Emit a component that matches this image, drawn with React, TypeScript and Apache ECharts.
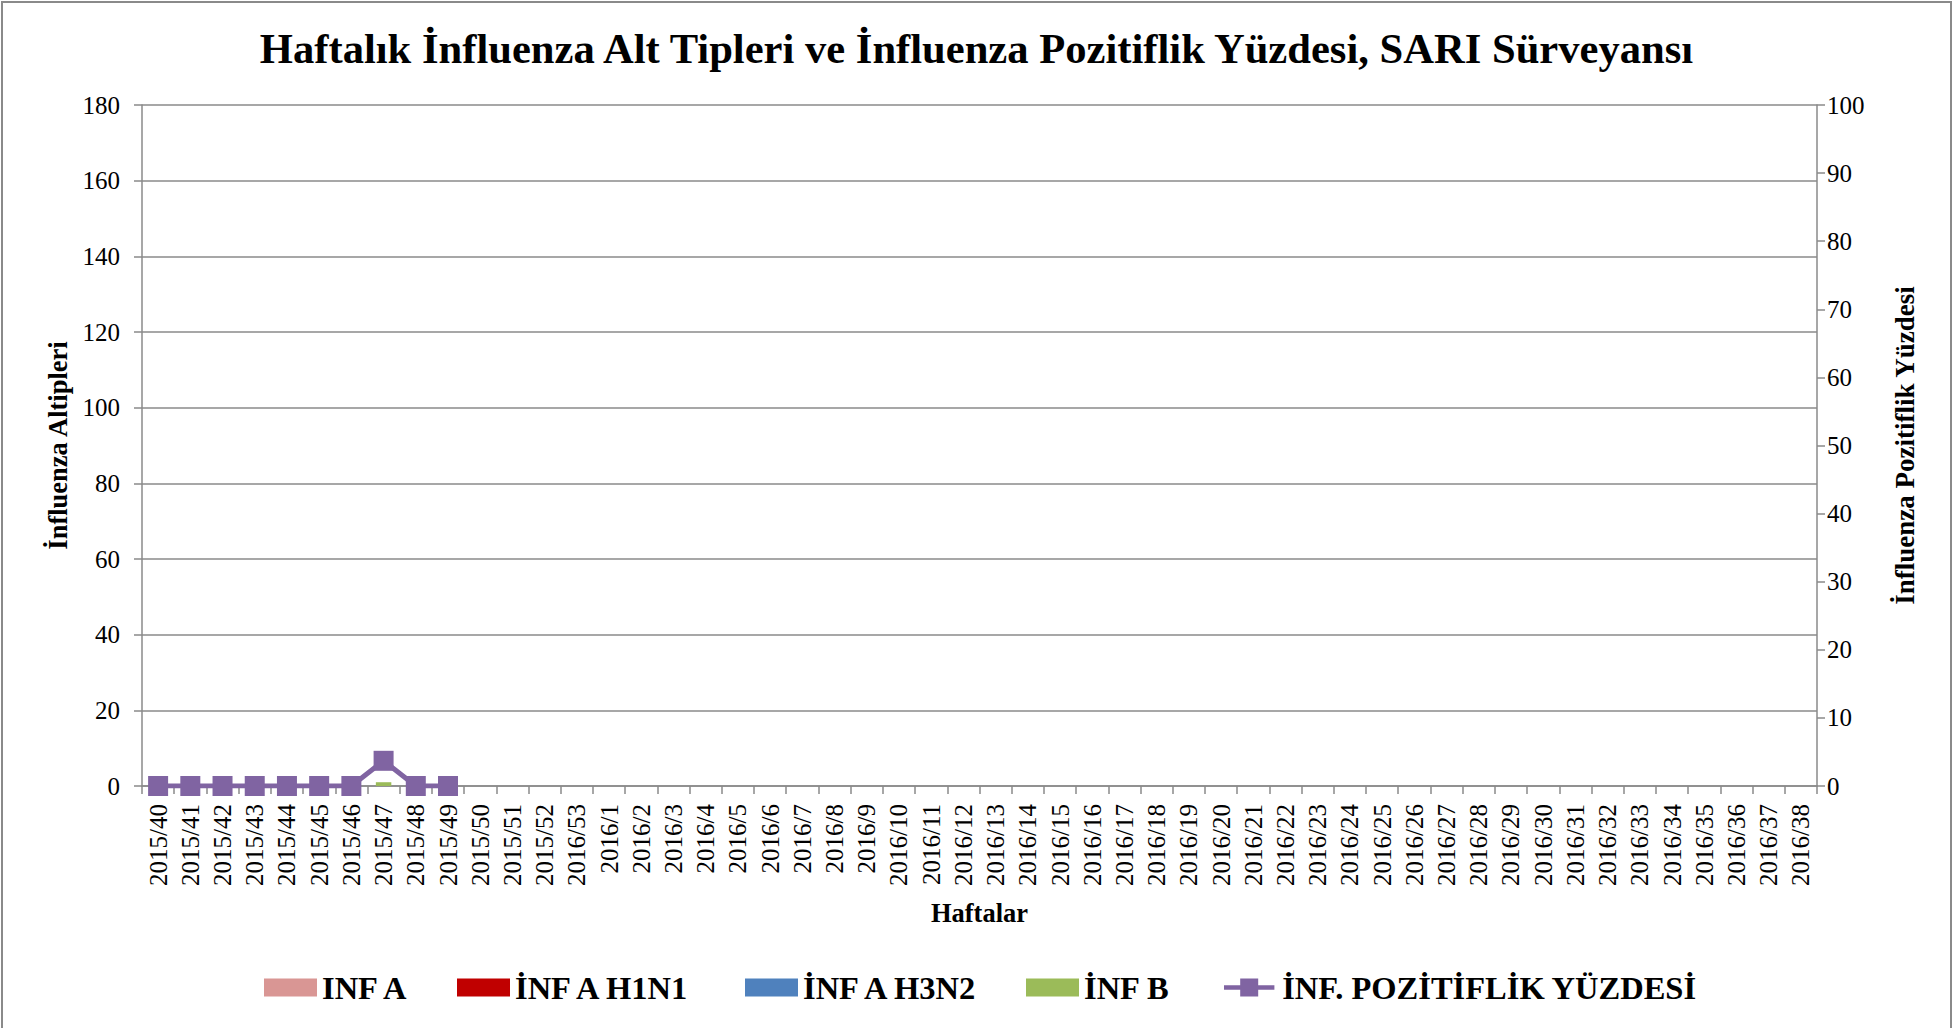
import React, { useEffect, useRef } from "react";
import * as echarts from "echarts";

const categories: string[] = [
  "2015/40", "2015/41", "2015/42", "2015/43", "2015/44", "2015/45", "2015/46", "2015/47",
  "2015/48", "2015/49", "2015/50", "2015/51", "2015/52", "2016/53",
  "2016/1", "2016/2", "2016/3", "2016/4", "2016/5", "2016/6", "2016/7", "2016/8", "2016/9",
  "2016/10", "2016/11", "2016/12", "2016/13", "2016/14", "2016/15", "2016/16", "2016/17",
  "2016/18", "2016/19", "2016/20", "2016/21", "2016/22", "2016/23", "2016/24", "2016/25",
  "2016/26", "2016/27", "2016/28", "2016/29", "2016/30", "2016/31", "2016/32", "2016/33",
  "2016/34", "2016/35", "2016/36", "2016/37", "2016/38",
];

// weekly values for the first 10 reported weeks (2015/40 - 2015/49); remaining weeks not reported
const infA: number[] = [0, 0, 0, 0, 0, 0, 0, 0, 0, 0];
const infAH1N1: number[] = [0, 0, 0, 0, 0, 0, 0, 0, 0, 0];
const infAH3N2: number[] = [0, 0, 0, 0, 0, 0, 0, 0, 0, 0];
const infB: number[] = [0, 0, 0, 0, 0, 0, 0, 1, 0, 0];
const positivity: number[] = [0, 0, 0, 0, 0, 0, 0, 3.7, 0, 0];

const leftTicks = { min: 0, max: 180, interval: 20 };
const rightTicks = { min: 0, max: 100, interval: 10 };

const FONT = "'Liberation Serif', 'Times New Roman', serif";
const GRAY = "#8a8a8a";
const LINE_ICON =
  "path://M0,7.5L18,7.5L18,0L38,0L38,7.5L56,7.5L56,12.5L38,12.5L38,20L18,20L18,12.5L0,12.5Z";

function pad(arr: number[]): (number | null)[] {
  return categories.map((_, i) => (i < arr.length ? arr[i] : null));
}

const legendItems = [
  { name: "INF A", icon: "rect", left: 264, width: 53 },
  { name: "İNF A H1N1", icon: "rect", left: 457, width: 53 },
  { name: "İNF A H3N2", icon: "rect", left: 745, width: 53 },
  { name: "İNF B", icon: "rect", left: 1026, width: 53 },
  { name: "İNF. POZİTİFLİK YÜZDESİ", icon: LINE_ICON, left: 1224, width: 56 },
];

export default function App() {
  const ref = useRef<HTMLDivElement>(null);
  useEffect(() => {
    document.body.style.margin = "0";
    if (!ref.current) return;
    const chart = echarts.init(ref.current, undefined, { renderer: "svg" });
    const barCommon = {
      type: "bar",
      stack: "sub",
      barWidth: "48%",
      yAxisIndex: 0,
    };
    chart.setOption({
      animation: false,
      backgroundColor: "#ffffff",
      title: {
        text: "Haftalık İnfluenza Alt Tipleri ve İnfluenza Pozitiflik Yüzdesi, SARI Sürveyansı",
        left: "center",
        top: 22,
        textStyle: { fontFamily: FONT, fontSize: 42.6, fontWeight: "bold", color: "#000" },
      },
      legend: legendItems.map((it) => ({
        left: it.left,
        top: 971,
        padding: 0,
        itemWidth: it.width,
        itemHeight: 18,
        textStyle: { fontFamily: FONT, fontSize: 32.5, fontWeight: "bold", color: "#000" },
        data: [{ name: it.name, icon: it.icon }],
      })),
      graphic: [
        {
          type: "rect",
          shape: { x: 2, y: 2, width: 1949, height: 1040 },
          style: { fill: "none", stroke: GRAY, lineWidth: 2 },
          silent: true,
        },
      ],
      grid: { left: 142, right: 136, top: 105, bottom: 242 },
      xAxis: {
        type: "category",
        data: categories,
        boundaryGap: true,
        name: "Haftalar",
        nameLocation: "middle",
        nameGap: 113,
        nameTextStyle: { fontFamily: FONT, fontSize: 26.5, fontWeight: "bold", color: "#000" },
        axisLine: { lineStyle: { color: GRAY, width: 1.5 } },
        axisTick: { show: true, length: 8, interval: 0, lineStyle: { color: GRAY, width: 1.5 } },
        axisLabel: {
          interval: 0,
          rotate: 90,
          margin: 18,
          fontFamily: FONT,
          fontSize: 25,
          color: "#000",
        },
      },
      yAxis: [
        {
          type: "value",
          min: leftTicks.min,
          max: leftTicks.max,
          interval: leftTicks.interval,
          name: "İnfluenza Altipleri",
          nameLocation: "middle",
          nameRotate: 90,
          nameGap: 65,
          nameTextStyle: { fontFamily: FONT, fontSize: 26.5, fontWeight: "bold", color: "#000" },
          axisLine: { show: true, lineStyle: { color: GRAY, width: 1.5 } },
          axisTick: { show: true, length: 8, lineStyle: { color: GRAY, width: 1.5 } },
          axisLabel: { margin: 22, fontFamily: FONT, fontSize: 25, color: "#000" },
          splitLine: { show: true, lineStyle: { color: GRAY, width: 1.5 } },
        },
        {
          type: "value",
          position: "right",
          min: rightTicks.min,
          max: rightTicks.max,
          interval: rightTicks.interval,
          name: "İnfluenza Pozitiflik Yüzdesi",
          nameLocation: "middle",
          nameRotate: 90,
          nameGap: 74,
          nameTextStyle: { fontFamily: FONT, fontSize: 27, fontWeight: "bold", color: "#000" },
          axisLine: { show: true, lineStyle: { color: GRAY, width: 1.5 } },
          axisTick: { show: true, length: 8, lineStyle: { color: GRAY, width: 1.5 } },
          axisLabel: { margin: 10, fontFamily: FONT, fontSize: 25, color: "#000" },
          splitLine: { show: false },
        },
      ],
      series: [
        { ...barCommon, name: "INF A", data: pad(infA), itemStyle: { color: "#D99694" } },
        { ...barCommon, name: "İNF A H1N1", data: pad(infAH1N1), itemStyle: { color: "#C00000" } },
        { ...barCommon, name: "İNF A H3N2", data: pad(infAH3N2), itemStyle: { color: "#4F81BD" } },
        { ...barCommon, name: "İNF B", data: pad(infB), itemStyle: { color: "#9BBB59" } },
        {
          type: "line",
          name: "İNF. POZİTİFLİK YÜZDESİ",
          yAxisIndex: 1,
          data: pad(positivity),
          symbol: "rect",
          symbolSize: 20,
          lineStyle: { color: "#8064A2", width: 5 },
          itemStyle: { color: "#8064A2" },
          z: 5,
        },
      ],
    });
    return () => chart.dispose();
  }, []);
  return <div ref={ref} style={{ width: 1953, height: 1028 }} />;
}
